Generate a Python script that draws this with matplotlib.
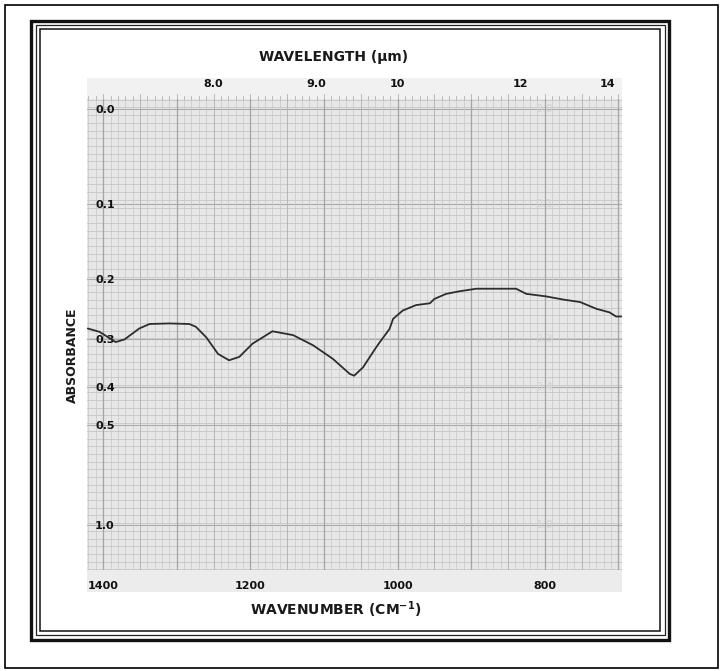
import numpy as np
import matplotlib
matplotlib.use("Agg")
import matplotlib.pyplot as plt
from matplotlib.patches import Rectangle

# ---------------------------------------------
# Datos leidos del espectro (cm-1 vs absorbancia)
# ---------------------------------------------
WAVENUMBER = [1421, 1405, 1383, 1371, 1351, 1337, 1310, 1283, 1274, 1260,
              1244, 1229, 1215, 1197, 1170, 1142, 1115, 1088, 1065, 1059,
              1047, 1029, 1024, 1011, 1006, 993, 975, 956, 950, 934,
              916, 893, 866, 839, 825, 798, 775, 752, 730, 712, 703, 696]
ABSORBANCE = [0.280, 0.286, 0.305, 0.300, 0.280, 0.272, 0.271, 0.272, 0.277, 0.296,
              0.328, 0.341, 0.334, 0.308, 0.285, 0.292, 0.311, 0.338, 0.370, 0.374,
              0.356, 0.315, 0.305, 0.281, 0.263, 0.249, 0.240, 0.237, 0.230, 0.222,
              0.218, 0.214, 0.214, 0.214, 0.222, 0.226, 0.231, 0.235, 0.246, 0.252, 0.259, 0.259]

ABS_TICKS = [0.0, 0.1, 0.2, 0.3, 0.4, 0.5, 1.0]
ABS_LABELS = ["0.0", "0.1", "0.2", "0.3", "0.4", "0.5", "1.0"]
GHOST_TICKS = [0.0, 0.1, 0.3, 0.4, 0.5, 1.0]
WN_TICKS = [1400, 1200, 1000, 800]
UM_TICKS = [8.0, 9.0, 10, 12, 14]
UM_LABELS = ["8.0", "9.0", "10", "12", "14"]

W, H = 720, 671


def px_box(l, t, r, b):
    return [l / W, 1 - b / H, (r - l) / W, (b - t) / H]


# escala de absorbancia (papel lineal en transmitancia)
def to_u(a):
    a = np.asarray(a, dtype=float)
    return 1 - 10 ** (-a)


def from_u(u):
    u = np.clip(np.asarray(u, dtype=float), -1, 1 - 1e-9)
    return -np.log10(1 - u)


fig = plt.figure(figsize=(7.2, 6.71), dpi=100)

# capa de fondo en pixeles (marcos, bandas, titulos)
bg = fig.add_axes([0, 0, 1, 1])
bg.set_xlim(0, W)
bg.set_ylim(H, 0)
bg.axis("off")

bg.add_patch(Rectangle((4.5, 5), 713.5, 663, fill=False, ec="black", lw=1.2))
bg.add_patch(Rectangle((31, 20.5), 638, 619, fill=False, ec="#111111", lw=2.4))
bg.add_patch(Rectangle((35.5, 25), 629, 610, fill=False, ec="#222222", lw=0.9))
bg.add_patch(Rectangle((40, 29), 620, 602, fill=False, ec="#111111", lw=1.1))

bg.add_patch(Rectangle((87, 78), 535, 21, fc="#f1f1f1", ec="none"))
bg.add_patch(Rectangle((87, 570), 535, 22, fc="#ececec", ec="none"))

bg.text(334, 57, "WAVELENGTH (\u00b5m)", ha="center", va="center",
        fontsize=10, fontweight="bold", color="#1a1a1a")
bg.text(336, 610, "WAVENUMBER (CM$^{\\mathbf{-1}}$)", ha="center", va="center",
        fontsize=10, fontweight="bold", color="#1a1a1a")
bg.text(72, 355, "ABSORBANCE", ha="center", va="center", rotation=90,
        fontsize=9, fontweight="bold", color="#1a1a1a")

# ejes del papel
ax = fig.add_axes(px_box(87, 99, 622, 570))
ax.set_facecolor("#e7e7e7")
ax.set_yscale("function", functions=(to_u, from_u))
ax.set_xlim(1422, 695)
ax.set_ylim(2.7, -0.0093)

for s in ax.spines.values():
    s.set_visible(False)

# rejilla del papel
for u in np.arange(-0.02, 1.0, 1 / 60):
    ax.axhline(from_u(u), color="#c3c3c3", lw=0.55, zorder=1)
for a in ABS_TICKS:
    ax.axhline(a, color="#a9a9a9", lw=0.8, zorder=1)
for wn in range(700, 1430, 10):
    if wn % 100 == 0:
        ax.axvline(wn, color="#a4a4a4", lw=0.9, zorder=1)
    elif wn % 50 == 0:
        ax.axvline(wn, color="#b6b6b6", lw=0.7, zorder=1)
    else:
        ax.axvline(wn, color="#c6c6c6", lw=0.5, zorder=1)

ax.plot(WAVENUMBER, ABSORBANCE, color="#2d2d2d", lw=1.3,
        solid_joinstyle="round", solid_capstyle="round", zorder=5)

# etiquetas de absorbancia dentro del papel
ax.set_yticks(ABS_TICKS, labels=ABS_LABELS)
ax.yaxis.set_minor_locator(matplotlib.ticker.NullLocator())
ax.tick_params(axis="y", length=0, pad=-5.8, labelsize=8, labelcolor="#111111")
for lab in ax.get_yticklabels():
    lab.set_horizontalalignment("left")
    lab.set_fontweight("bold")

# etiquetas fantasma del lado derecho
for a, lab in zip(GHOST_TICKS, ABS_LABELS[:2] + ABS_LABELS[3:]):
    ax.text(0.855, a, lab, transform=ax.get_yaxis_transform(), ha="center",
            va="center", fontsize=8, color="#d2d2d2", zorder=2)

# numero de onda abajo
ax.set_xticks(WN_TICKS, labels=[str(v) for v in WN_TICKS])
ax.xaxis.set_minor_locator(matplotlib.ticker.MultipleLocator(10))
ax.tick_params(axis="x", which="major", length=0, pad=8, labelsize=8,
               labelcolor="#111111")
ax.tick_params(axis="x", which="minor", length=0)
for lab in ax.get_xticklabels():
    lab.set_fontweight("bold")

# longitud de onda arriba
sec = ax.secondary_xaxis("top", functions=(lambda x: 1e4 / np.asarray(x, dtype=float),
                                           lambda x: 1e4 / np.asarray(x, dtype=float)))
sec.set_xticks(UM_TICKS, labels=UM_LABELS)
sec.tick_params(axis="x", which="major", length=0, pad=7, labelsize=8,
                labelcolor="#111111")
sec.xaxis.set_minor_locator(matplotlib.ticker.NullLocator())
for s in sec.spines.values():
    s.set_visible(False)
for lab in sec.get_xticklabels():
    lab.set_fontweight("bold")

# marcas de regla en la banda superior
for wn in range(700, 1430, 10):
    ln = 5 if wn % 50 == 0 else 3
    ax.plot([wn, wn], [1.0, 1.0 + ln / 471], transform=ax.get_xaxis_transform(),
            color="#b0b0b0", lw=0.6, clip_on=False, zorder=2)

fig.savefig("out.png", dpi=100)
